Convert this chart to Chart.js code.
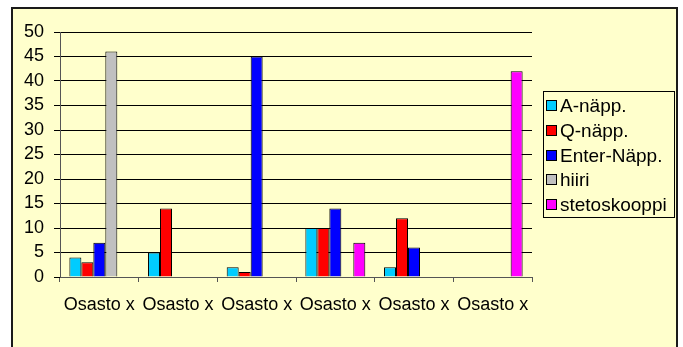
<!DOCTYPE html>
<html>
<head>
<meta charset="utf-8">
<script src="https://cdn.jsdelivr.net/npm/chart.js@4/dist/chart.umd.min.js"></script>
<style>
  html, body { margin: 0; padding: 0; background: #fff; }
  #wrap { width: 683px; height: 347px; position: relative; }
</style>
</head>
<body>
<div id="wrap"><canvas id="c" width="683" height="347"></canvas></div>
<script>
// Categories and series values
const categories = ['Osasto x', 'Osasto x', 'Osasto x', 'Osasto x', 'Osasto x', 'Osasto x'];
const seriesNames = ['A-näpp.', 'Q-näpp.', 'Enter-Näpp.', 'hiiri', 'stetoskooppi'];
const aNapp        = [4, 5, 2, 10, 2, null];
const qNapp        = [3, 14, 1, 10, 12, null];
const enterNapp    = [7, null, 45, 14, 6, null];
const hiiri        = [46, null, null, null, null, null];
const stetoskooppi = [null, null, null, 7, null, 42];
const yMin = 0, yMax = 50, yStep = 5;

const seriesValues = [aNapp, qNapp, enterNapp, hiiri, stetoskooppi];
const seriesColors = ['#00CCFF', '#FF0000', '#0000FF', '#C0C0C0', '#FF00FF'];

const FONT = 'Arial, "Liberation Sans", sans-serif';

// Pale yellow panel with a dark frame behind everything
const framePlugin = {
  id: 'frame',
  beforeDraw(chart) {
    const ctx = chart.ctx;
    ctx.save();
    ctx.fillStyle = '#ffffff';
    ctx.fillRect(0, 0, chart.width, chart.height);
    ctx.fillStyle = '#FFFFCC';
    ctx.fillRect(12, 8, 665, chart.height);
    ctx.strokeStyle = '#1a1a1a';
    ctx.lineWidth = 2;
    ctx.strokeRect(12, 8, 665, chart.height + 10);
    ctx.restore();
  }
};

// Boxed legend on the right side
const boxLegendPlugin = {
  id: 'boxLegend',
  afterDraw(chart) {
    const ctx = chart.ctx;
    const bx = 543.5, by = 91.5, bw = 131, bh = 126;
    ctx.save();
    ctx.strokeStyle = '#000';
    ctx.lineWidth = 1;
    ctx.strokeRect(bx, by, bw, bh);
    ctx.font = '19px ' + FONT;
    ctx.textBaseline = 'middle';
    ctx.textAlign = 'left';
    chart.data.datasets.forEach((ds, i) => {
      const cy = 106 + i * 24.75;
      ctx.fillStyle = ds.backgroundColor;
      ctx.fillRect(546.5, Math.round(cy) - 5.5, 10, 10);
      ctx.strokeStyle = '#000';
      ctx.strokeRect(546.5, Math.round(cy) - 5.5, 10, 10);
      ctx.fillStyle = '#000';
      ctx.fillText(ds.label, 560, cy + 1);
    });
    ctx.restore();
  }
};

new Chart(document.getElementById('c'), {
  type: 'bar',
  data: {
    labels: categories,
    datasets: seriesNames.map((name, i) => ({
      label: name,
      data: seriesValues[i],
      backgroundColor: seriesColors[i],
      borderColor: '#000',
      borderWidth: 1,
      categoryPercentage: 0.762,
      barPercentage: 1.0
    }))
  },
  options: {
    responsive: false,
    devicePixelRatio: 1,
    animation: false,
    layout: { padding: { left: 0, right: 151, top: 32, bottom: 0 } },
    plugins: {
      legend: { display: false },
      tooltip: { enabled: false }
    },
    scales: {
      x: {
        grid: { display: true, drawOnChartArea: false, drawTicks: true, tickLength: 5, offset: true, color: '#555' },
        border: { display: true, color: '#555', width: 1 },
        ticks: { color: '#000', font: { family: FONT, size: 18 }, padding: 12, maxRotation: 0, autoSkip: false },
        afterFit(scale) { scale.height = 70; }
      },
      y: {
        min: yMin,
        max: yMax,
        ticks: { stepSize: yStep, autoSkip: false, color: '#000', font: { family: FONT, size: 18 }, padding: 10 },
        grid: { color: '#000', lineWidth: 1, drawTicks: true, tickLength: 6, tickColor: '#000' },
        border: { display: true, color: '#555', width: 1 },
        afterFit(scale) { scale.width = 60; }
      }
    }
  },
  plugins: [framePlugin, boxLegendPlugin]
});
</script>
</body>
</html>
